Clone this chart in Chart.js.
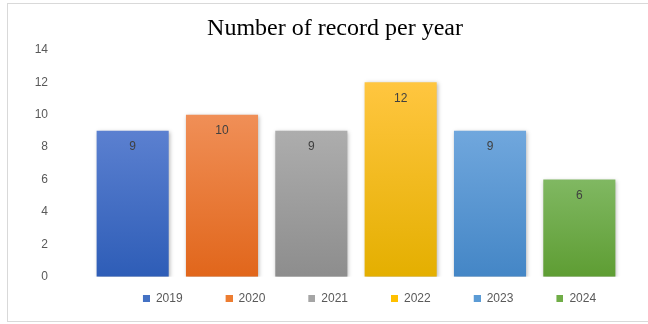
<!DOCTYPE html>
<html>
<head>
<meta charset="utf-8">
<script src="https://cdn.jsdelivr.net/npm/chart.js@4.4.1/dist/chart.umd.min.js"></script>
<style>
    html, body { margin: 0; padding: 0; background: #fff; overflow: hidden; }
    #wrap { position: relative; width: 648px; height: 324px; }
    #frame { position: absolute; left: 7px; top: 3px; width: 700px; height: 317px; border: 1px solid #d9d9d9; pointer-events: none; }
</style>
</head>
<body>
<div id="wrap">
    <canvas id="myChart" width="648" height="324"></canvas>
    <div id="frame"></div>
</div>
<script>
// Datos
const years = ['2019', '2020', '2021', '2022', '2023', '2024'];
const records = [9, 10, 9, 12, 9, 6];
const yTicks = [0, 2, 4, 6, 8, 10, 12, 14];

// Colores (base para la leyenda, degradado para las barras)
const baseColors = ['#4472C4', '#ED7D31', '#A5A5A5', '#FFC000', '#5B9BD5', '#70AD47'];
const topColors = ['#5B80D0', '#F08F57', '#ADADAD', '#FFC640', '#70A7DD', '#80B862'];
const bottomColors = ['#2E5DB7', '#E1661B', '#8D8D8D', '#E4AF00', '#4486C6', '#5E9D33'];

// Cuadradito de la leyenda, con el hueco a la izquierda para separar los items
function legendSwatch(color) {
    const c = document.createElement('canvas');
    c.width = 34;
    c.height = 7;
    const g = c.getContext('2d');
    g.fillStyle = color;
    g.fillRect(27, 0, 7, 7);
    return c;
}

// Sombra suave de las barras
const barShadow = {
    id: 'barShadow',
    beforeDatasetsDraw(chart) {
        const ctx = chart.ctx;
        ctx.save();
        ctx.shadowColor = 'rgba(0,0,0,0.28)';
        ctx.shadowBlur = 4;
        ctx.shadowOffsetX = 1;
        ctx.shadowOffsetY = 1;
    },
    afterDatasetsDraw(chart) {
        chart.ctx.restore();
    }
};

// Etiquetas de valor dentro de cada barra
const valueLabels = {
    id: 'valueLabels',
    afterDatasetsDraw(chart) {
        const ctx = chart.ctx;
        const meta = chart.getDatasetMeta(0);
        ctx.save();
        ctx.font = '12px "Liberation Sans"';
        ctx.fillStyle = '#404040';
        ctx.textAlign = 'center';
        ctx.textBaseline = 'middle';
        meta.data.forEach((bar, i) => {
            ctx.fillText(String(records[i]), bar.x, bar.y + 16);
        });
        ctx.restore();
    }
};

const ctx = document.getElementById('myChart').getContext('2d');
const myChart = new Chart(ctx, {
    type: 'bar',
    data: {
        labels: years,
        datasets: [{
            label: 'Records',
            data: records,
            backgroundColor(c) {
                const i = c.dataIndex;
                const chart = c.chart;
                if (!chart.chartArea || c.type !== 'data') return baseColors[i];
                const y = chart.scales.y;
                const top = y.getPixelForValue(records[i]);
                const bottom = y.getPixelForValue(0);
                const grad = chart.ctx.createLinearGradient(0, top, 0, bottom);
                grad.addColorStop(0, topColors[i]);
                grad.addColorStop(1, bottomColors[i]);
                return grad;
            },
            borderWidth: 0,
            categoryPercentage: 1,
            barPercentage: 0.807
        }]
    },
    options: {
        responsive: false,
        animation: false,
        layout: { padding: { left: 22, right: 0, top: 0, bottom: 0 } },
        plugins: {
            title: {
                display: true,
                text: 'Number of record per year',
                color: '#000',
                font: { family: '"Liberation Serif"', size: 24, weight: 'normal' },
                padding: { top: 14, bottom: 7 }
            },
            legend: {
                position: 'bottom',
                fullSize: false,
                maxHeight: 47,
                labels: {
                    usePointStyle: true,
                    pointStyleWidth: 34,
                    padding: 16,
                    color: '#595959',
                    font: { family: '"Liberation Sans"', size: 12 },
                    generateLabels() {
                        return years.map((yr, i) => ({
                            text: yr,
                            fillStyle: baseColors[i],
                            strokeStyle: baseColors[i],
                            lineWidth: 0,
                            pointStyle: legendSwatch(baseColors[i]),
                            fontColor: '#595959',
                            hidden: false,
                            index: i
                        }));
                    }
                }
            },
            tooltip: { enabled: false }
        },
        scales: {
            x: {
                display: false,
                grid: { display: false }
            },
            y: {
                min: 0,
                max: 14,
                grid: { display: false, drawTicks: false },
                border: { display: false },
                ticks: {
                    padding: 40,
                    color: '#595959',
                    font: { family: '"Liberation Sans"', size: 12 }
                },
                afterBuildTicks(scale) {
                    scale.ticks = yTicks.map(v => ({ value: v }));
                },
                afterFit(scale) {
                    scale.width = 66;
                }
            },
            // eje vacío a la derecha, solo para dejar el margen
            yRight: {
                position: 'right',
                min: 0,
                max: 14,
                grid: { display: false, drawTicks: false },
                border: { display: false },
                ticks: { display: false },
                afterFit(scale) {
                    scale.width = 24;
                }
            }
        }
    },
    plugins: [barShadow, valueLabels]
});
</script>
</body>
</html>
